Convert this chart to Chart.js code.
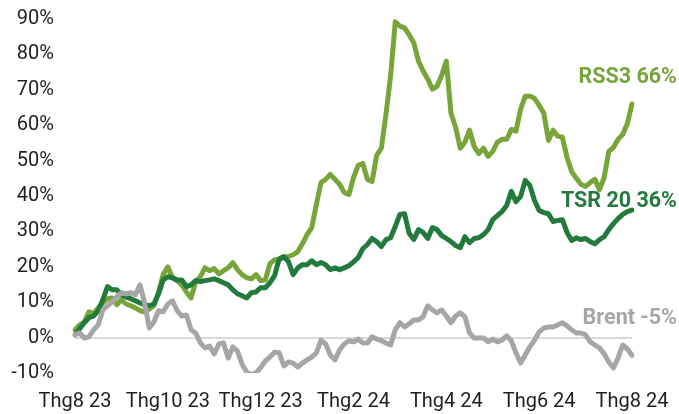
<!DOCTYPE html>
<html>
<head>
<meta charset="utf-8">
<script src="https://cdn.jsdelivr.net/npm/chart.js@4.4.1/dist/chart.umd.min.js"></script>
<style>
  html, body { margin: 0; padding: 0; background: #ffffff; }
  #wrap { width: 679px; height: 414px; }
</style>
</head>
<body>
<div id="wrap"><canvas id="c" width="679" height="414"></canvas></div>
<script>
// Month labels on the time axis, one every 20 observations
const tickLabels = ['Thg8 23', 'Thg10 23', 'Thg12 23', 'Thg2 24', 'Thg4 24', 'Thg6 24', 'Thg8 24'];
const pointsPerTick = 20;

// Cumulative performance since Aug 2023 (%)
const rss3 = [
  2.2, 3.6, 4.4, 7.3, 6.7, 8.4, 9.8, 11.0, 11.2, 9.3,
  10.7, 9.5, 9.0, 8.4, 7.6, 7.3, 8.1, 9.0, 12.9, 17.8,
  20.0, 16.9, 16.1, 14.9, 12.9, 11.2, 15.8, 17.2, 19.7, 18.9,
  19.5, 18.0, 18.9, 19.7, 21.2, 19.2, 17.8, 16.9, 16.6, 17.8,
  16.1, 16.3, 20.9, 22.0, 22.0, 22.6, 22.9, 23.4, 24.3, 26.5,
  29.1, 31.1, 37.6, 43.8, 44.7, 46.1, 44.7, 43.3, 41.0, 40.4,
  45.2, 48.6, 49.2, 44.7, 44.1, 51.5, 53.5, 63.1, 74.0, 89.2,
  88.0, 87.5, 85.5, 83.2, 78.1, 75.3, 73.0, 70.2, 71.0, 74.1,
  78.1, 63.4, 59.4, 53.5, 55.2, 58.6, 54.0, 52.0, 53.5, 51.2,
  52.6, 55.2, 56.0, 56.0, 58.8, 58.3, 64.5, 68.2, 68.2, 67.6,
  65.6, 63.4, 55.7, 58.6, 56.9, 56.6, 50.9, 46.9, 45.0, 43.3,
  42.7, 43.8, 44.7, 41.8, 45.2, 52.6, 53.7, 56.0, 57.4, 60.5,
  66.0
];
const tsr20 = [
  0.8, 2.5, 4.2, 5.6, 6.1, 7.6, 10.7, 14.4, 13.5, 13.5,
  12.1, 11.5, 11.0, 10.4, 9.8, 9.3, 9.0, 9.5, 12.4, 16.3,
  17.2, 16.9, 16.3, 16.3, 14.4, 14.9, 16.1, 15.8, 16.1, 16.3,
  16.6, 16.1, 15.5, 14.9, 13.5, 12.4, 11.8, 11.2, 12.7, 12.9,
  14.1, 14.1, 15.5, 17.5, 22.3, 22.9, 21.4, 17.8, 19.7, 20.6,
  20.6, 21.7, 20.6, 21.2, 20.6, 19.2, 19.7, 19.2, 19.7, 20.3,
  21.4, 22.6, 25.1, 26.3, 28.0, 27.1, 25.7, 27.7, 28.2, 31.4,
  34.8, 35.0, 29.4, 27.7, 30.5, 29.7, 28.0, 31.1, 30.5, 28.8,
  28.0, 27.1, 26.0, 25.4, 28.5, 26.8, 28.0, 28.2, 29.1, 30.5,
  33.3, 34.5, 35.6, 37.3, 41.3, 38.4, 39.9, 44.4, 43.0, 38.7,
  35.9, 35.3, 35.0, 32.8, 33.1, 33.3, 29.7, 27.4, 28.2, 27.7,
  28.0, 27.1, 26.5, 27.7, 28.5, 30.5, 32.2, 33.6, 34.8, 35.6,
  36.0
];
const brent = [
  0.8, 1.3, -0.1, 0.2, 2.2, 3.6, 7.8, 9.0, 10.1, 11.5,
  12.7, 12.4, 12.7, 12.1, 14.9, 9.8, 2.7, 4.4, 7.6, 7.3,
  9.5, 10.4, 7.6, 6.1, 6.4, 2.2, 1.3, -1.5, -2.9, -2.4,
  -4.6, -1.8, -1.5, -5.8, -2.6, -3.8, -7.5, -9.8, -10.4, -10.0,
  -8.5, -6.6, -5.5, -4.1, -4.3, -8.0, -6.9, -7.2, -8.3, -7.2,
  -6.3, -5.5, -4.3, -0.7, -1.8, -4.9, -6.3, -3.5, -1.8, -0.9,
  -1.2, -0.4, -1.5, -1.5, 0.2, -0.4, -0.9, -1.5, -2.1, 2.2,
  4.2, 3.0, 3.9, 5.0, 5.0, 5.9, 9.0, 7.8, 7.0, 7.8,
  6.1, 4.2, 6.1, 7.0, 5.9, 1.3, -0.1, -0.1, -0.1, -1.2,
  -0.4, -1.2, -0.7, 0.5, -0.9, -4.3, -7.2, -4.9, -2.6, -0.7,
  1.6, 2.7, 3.0, 3.0, 3.6, 4.2, 3.3, 2.2, 1.3, 1.3,
  0.8, -1.2, -2.1, -2.9, -4.6, -6.9, -8.6, -5.8, -2.1, -3.2,
  -5.0
];

const yTicks = { min: -10, max: 90, step: 10 };

// one category per observation; the month name sits on every 20th one
const categories = rss3.map((_, i) => (i % pointsPerTick === 0 ? tickLabels[i / pointsPerTick] : ''));

const COLORS = { rss3: '#77a53a', tsr: '#227a3c', brent: '#a6a6a6', text: '#1f1f1f', zero: '#d9d9d9' };

// Series name + final value, printed right of the last point
const endLabels = {
  id: 'endLabels',
  afterDatasetsDraw(chart) {
    const { ctx } = chart;
    ctx.save();
    ctx.font = 'bold 21.5px Roboto';
    ctx.textAlign = 'right';
    ctx.textBaseline = 'middle';
    chart.data.datasets.forEach((ds, i) => {
      const meta = chart.getDatasetMeta(i);
      const last = meta.data[meta.data.length - 1];
      const value = ds.data[ds.data.length - 1];
      ctx.fillStyle = ds.borderColor;
      ctx.fillText(ds.label + ' ' + Math.round(value) + '%', chart.width - 2, last.y - ds.labelLift);
    });
    ctx.restore();
  }
};

const lineStyle = { borderWidth: 5, pointRadius: 0, tension: 0, borderJoinStyle: 'round', borderCapStyle: 'round', fill: false };

new Chart(document.getElementById('c'), {
  type: 'line',
  data: {
    labels: categories,
    datasets: [
      Object.assign({ label: 'Brent', data: brent, borderColor: COLORS.brent, order: 0, labelLift: 37 }, lineStyle),
      Object.assign({ label: 'TSR 20', data: tsr20, borderColor: COLORS.tsr, order: 1, labelLift: 9 }, lineStyle),
      Object.assign({ label: 'RSS3', data: rss3, borderColor: COLORS.rss3, order: 2, labelLift: 26 }, lineStyle)
    ]
  },
  options: {
    responsive: false,
    animation: false,
    devicePixelRatio: 1,
    layout: { padding: { top: 19, right: 47, bottom: 3, left: 0 } },
    plugins: { legend: { display: false }, tooltip: { enabled: false } },
    scales: {
      x: {
        offset: false,
        afterFit(scale) { scale.height = 38; },
        grid: { display: false },
        border: { display: false },
        ticks: {
          autoSkip: false,
          maxRotation: 0,
          padding: 9,
          color: COLORS.text,
          font: { family: 'Roboto', size: 20 }
        }
      },
      y: {
        min: yTicks.min,
        max: yTicks.max,
        afterFit(scale) { scale.width = 75; scale.paddingTop = 0; scale.paddingBottom = 0; },
        border: { display: false },
        grid: {
          drawTicks: false,
          lineWidth: 2,
          color: (c) => (c.tick && c.tick.value === 0 ? COLORS.zero : 'rgba(0,0,0,0)')
        },
        ticks: {
          stepSize: yTicks.step,
          padding: 21,
          color: COLORS.text,
          font: { family: 'Roboto', size: 20 },
          callback: (v) => v + '%'
        }
      }
    }
  },
  plugins: [endLabels]
});
</script>
</body>
</html>
